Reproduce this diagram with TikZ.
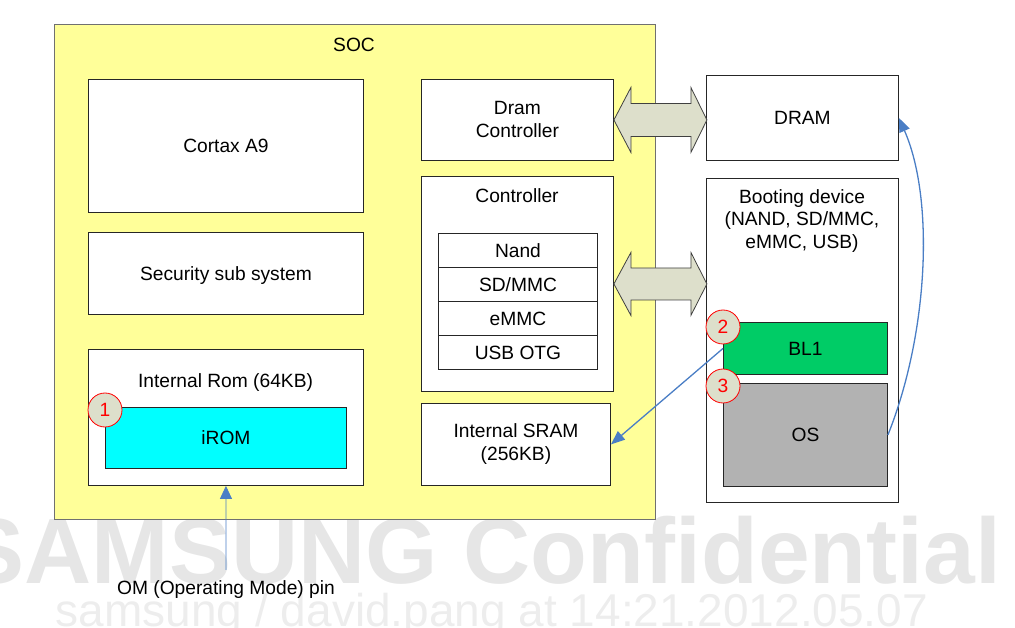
\documentclass[tikz,border=0pt]{standalone}
\usepackage{fontspec}
\setmainfont{Liberation Sans}
\usetikzlibrary{arrows.meta,calc}
\definecolor{socfill}{HTML}{FFFF99}
\definecolor{socline}{HTML}{707070}
\definecolor{arrfill}{HTML}{DDDFCB}
\definecolor{bloneFill}{HTML}{00CC66}
\definecolor{osfill}{HTML}{B2B2B2}
\definecolor{bluearr}{HTML}{4A7EC5}
\definecolor{wmgray}{HTML}{E6E6E6}
\definecolor{wmgraylight}{HTML}{EDEDED}
\definecolor{circfill}{HTML}{DDDFCB}
\definecolor{iromfill}{HTML}{00FFFF}
\begin{document}
\begin{tikzpicture}[x=1pt,y=-1pt,font=\fontsize{19.2}{23}\selectfont,
  box/.style={draw=black!85, fill=white, line width=0.9pt, inner sep=0pt, anchor=north west,
              text height=13.8pt, text depth=0pt},
  mbox/.style={draw=black!85, fill=white, line width=0.9pt, inner sep=0pt, anchor=north west,
              align=center},
  lbl/.style={inner sep=0pt, text height=13.8pt, text depth=0pt},
  numc/.style={circle, draw=red, fill=circfill, line width=0.8pt, minimum size=34pt, inner sep=0pt,
              text=red, text height=13.8pt, text depth=0pt},
  bigarr/.style={draw=black!75, fill=arrfill, line width=0.8pt, line join=miter},
  bluea/.style={draw=bluearr, line width=1.3pt, -{Triangle[length=14pt,width=11pt]}, fill=none},
  wmtext/.style={inner sep=0pt, anchor=base}
]
\useasboundingbox (0,0) rectangle (1015,628);
% watermark
\node[wmtext, text=wmgray, font=\fontsize{93}{93}\bfseries\selectfont] (wmone) at (482,583) {SAMSUNG Confidential};
\node[wmtext, text=wmgraylight, font=\fontsize{46}{46}\selectfont] (wmtwo) at (492,626) {samsung / david.pang at 14:21.2012.05.07};

% SOC
\node[draw=socline, fill=socfill, line width=0.9pt, anchor=north west, minimum width=601pt, minimum height=495pt, inner sep=0pt] (soc) at (54,24) {};
\node[lbl] (soclbl) at (354,45) {SOC};

\node[box, minimum width=275pt, minimum height=133pt] (cortex) at (88,79) {Cortax A9};
\node[box, minimum width=275pt, minimum height=82pt] (security) at (88,232) {Security sub system};
\node[box, minimum width=275pt, minimum height=136pt] (introm) at (88,349) {};
\node[lbl] (introml) at (225.5,381) {Internal Rom (64KB)};
\node[box, fill=iromfill, minimum width=241pt, minimum height=61pt] (irom) at (105,407) {iROM};
\node[numc] (cone) at (105,410) {1};

\node[mbox, minimum width=192pt, minimum height=81pt] (dramctl) at (421,79) {Dram\\Controller};
\node[box, minimum width=192pt, minimum height=215pt] (ctrl) at (421,176) {};
\node[lbl] (ctrll) at (517,196) {Controller};
\node[box, minimum width=159pt, minimum height=34pt] (nand) at (438,233) {Nand};
\node[box, minimum width=159pt, minimum height=34pt] (sdmmc) at (438,267) {SD/MMC};
\node[box, minimum width=159pt, minimum height=34pt] (emmc) at (438,301) {eMMC};
\node[box, minimum width=159pt, minimum height=34pt] (usb) at (438,335) {USB OTG};
\node[mbox, minimum width=189pt, minimum height=82pt] (sram) at (421,403) {Internal SRAM\\(256KB)};

% right side
\node[box, minimum width=192pt, minimum height=85pt] (dram) at (706,75) {DRAM};
\node[box, minimum width=192pt, minimum height=324pt] (boot) at (706,178) {};
\node[inner sep=0pt, align=center, font=\fontsize{19.2}{22.5}\selectfont] (bootl) at (802,221) {Booting device\\(NAND, SD/MMC,\\eMMC, USB)};
\node[box, fill=bloneFill, minimum width=164pt, minimum height=52pt] (blone) at (723,322) {BL1};
\node[box, fill=osfill, minimum width=164pt, minimum height=103pt] (os) at (723,383) {OS};
\node[numc] (ctwo) at (723,327) {2};
\node[numc] (cthree) at (723,386) {3};

% big double arrows
\draw[bigarr] (dramctl.east) -- ++(17,-32.5) -- ++(0,16) -- ++(60,0) -- ++(0,-16) -- ++(16,32.5)
  -- ++(-16,32.5) -- ++(0,-16) -- ++(-60,0) -- ++(0,16) -- cycle;
\draw[bigarr] (ctrl.east) -- ++(17,-31.5) -- ++(0,15.5) -- ++(60,0) -- ++(0,-15.5) -- ++(16,31.5)
  -- ++(-16,31.5) -- ++(0,-15.5) -- ++(-60,0) -- ++(0,15.5) -- cycle;

% OM pin
\node[lbl] (om) at (226,588) {OM (Operating Mode) pin};
\draw[draw=bluearr, line width=0.8pt, -{Triangle[length=13pt,width=12pt]}] ([yshift=11pt]om.north) -- (introm.south);

% blue arrows
\draw[bluea] (blone.west) -- (sram.east);
\draw[bluea] (os.east) .. controls (928,335) and (935,200) .. (dram.east);
\end{tikzpicture}
\end{document}
